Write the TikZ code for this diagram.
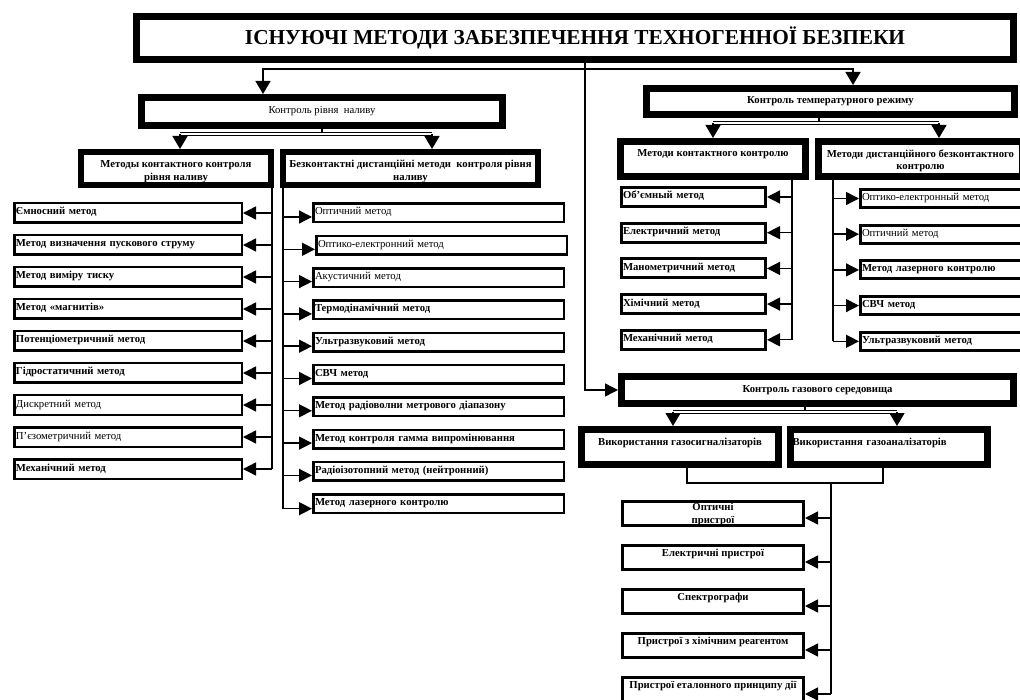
\documentclass[tikz,border=0pt]{standalone}
\usepackage{fontspec}
\setmainfont{Liberation Serif}
\usetikzlibrary{arrows.meta}

\begin{document}
\begin{tikzpicture}[x=1pt,y=-1pt,
  conn/.style={line width=1.4pt},
  arr/.style={line width=1.4pt,-{Triangle[length=13pt,width=13pt]}},
  darr/.style={line width=1.4pt,-{Triangle[length=13pt,width=15pt]}},
  dbl/.style={double,line width=0.8pt,double distance=1.6pt},
  head/.style={draw,line width=7pt,inner sep=0pt,align=center,font=\fontsize{10.7}{12.5}\selectfont},
  mid/.style={text height=8pt,text depth=4pt},
  high/.style={text height=8pt,text depth=12pt},
  two/.style={text height=#1,text depth=0pt},
  item/.style={draw,line width=2.5pt,inner xsep=1.5pt,inner ysep=0pt,align=left,
    text height=8pt,text depth=4pt,font=\fontsize{10.7}{12.5}\selectfont},
  gitem/.style={draw,line width=3pt,inner sep=0pt,align=center,minimum width=181pt,minimum height=24pt,
    text height=7pt,text depth=10pt,font=\fontsize{10.7}{12.5}\selectfont\bfseries},
  bold/.style={font=\fontsize{10.7}{12.5}\selectfont\bfseries}]
  \useasboundingbox (0,0) rectangle (1020,700);

  \draw (575,38) node (0) [head,minimum width=877pt,minimum height=43pt,font=\fontsize{21.3}{24}\selectfont\bfseries] {ІСНУЮЧІ МЕТОДИ ЗАБЕЗПЕЧЕННЯ ТЕХНОГЕННОЇ БЕЗПЕКИ};

  \draw (322,111.5)   node (1) [head,mid,minimum width=361pt,minimum height=28pt] {Контроль рівня~ наливу};
  \draw (830.5,101.5) node (2) [head,mid,minimum width=368pt,minimum height=26pt,bold] {Контроль температурного режиму};
  \draw (817.5,390)   node (3) [head,mid,minimum width=392pt,minimum height=27pt,bold] {Контроль газового середовища};

  \coordinate (j0) at (585,69);
  \coordinate (j1) at (263,69);
  \coordinate (j2) at (853,69);
  \draw[arr] (j0 |- 0.south) -- (j0 |- 3.west) -- (3.west);
  \draw[darr] (j0) -- (j1) -- (j1 |- 1.north);
  \draw[darr] (j0) -- (j2) -- (j2 |- 2.north);

  \draw (176,168.5) node (11) [head,two=24pt,line width=6pt,minimum width=190pt,minimum height=33pt,bold] {Методы контактного контроля\\рівня наливу};
  \draw (410.5,168.5) node (12) [head,two=24pt,line width=6pt,minimum width=255pt,minimum height=33pt,bold] {Безконтактні дистанційні методи~ контроля рівня\\наливу};
  \coordinate (j3) at (180,134);
  \coordinate (j4) at (432,134);
  \draw[conn] (1.south) -- (1.south |- j3);
  \draw[dbl] (j3) -- (j4);
  \draw[darr] (j3) -- (j3 |- 11.north);
  \draw[darr] (j4) -- (j4 |- 12.north);

  \draw (713,159)   node (21) [head,high,minimum width=185pt,minimum height=35pt,bold] {Методи контактного контролю};
  \draw (920.5,159) node (22) [head,two=21.5pt,minimum width=204pt,minimum height=35pt,bold] {Методи дистанційного безконтактного\\контролю};
  \coordinate (j5) at (713,123);
  \coordinate (j6) at (939,123);
  \coordinate (j7) at (819,123);
  \draw[conn] (j7 |- 2.south) -- (j7);
  \draw[dbl] (j5) -- (j6);
  \draw[darr] (j5) -- (j5 |- 21.north);
  \draw[darr] (j6) -- (j6 |- 22.north);

  \draw (680,447) node (31) [head,high,minimum width=197pt,minimum height=35pt,bold] {Використання газосигналізаторів};
  \draw (889,447) node (32) [head,high,minimum width=197pt,minimum height=35pt,bold,align=left,text width=193pt] {Використання газоаналізаторів};
  \coordinate (j8) at (673,412);
  \coordinate (j9) at (897,412);
  \coordinate (j10) at (805,412);
  \draw[conn] (j10 |- 3.south) -- (j10);
  \draw[dbl] (j8) -- (j9);
  \draw[darr] (j8) -- (j8 |- 31.north);
  \draw[darr] (j9) -- (j9 |- 32.north);

  % контактні методи рівня наливу
  \draw (128,213) node (111) [item,bold,minimum width=227.5pt,minimum height=19.5pt,text width=224pt] {Ємносний метод};
  \draw (128,245) node (112) [item,bold,minimum width=227.5pt,minimum height=19.5pt,text width=224pt] {Метод визначення пускового струму};
  \draw (128,277) node (113) [item,bold,minimum width=227.5pt,minimum height=19.5pt,text width=224pt] {Метод виміру тиску};
  \draw (128,309) node (114) [item,bold,minimum width=227.5pt,minimum height=19.5pt,text width=224pt] {Метод «магнитів»};
  \draw (128,341) node (115) [item,bold,minimum width=227.5pt,minimum height=19.5pt,text width=224pt] {Потенціометричний метод};
  \draw (128,373) node (116) [item,bold,minimum width=227.5pt,minimum height=19.5pt,text width=224pt] {Гідростатичний метод};
  \draw (128,405) node (117) [item,minimum width=227.5pt,minimum height=19.5pt,text width=224pt] {Дискретний метод};
  \draw (128,437) node (118) [item,minimum width=227.5pt,minimum height=19.5pt,text width=224pt] {П’єзометричний метод};
  \draw (128,469) node (119) [item,bold,minimum width=227.5pt,minimum height=19.5pt,text width=224pt] {Механічний метод};
  \coordinate (j11) at (272,188);
  \draw[conn] (j11) -- (j11 |- 119.east);
  \draw[arr] (j11 |- 111.east) -- (111.east);
  \draw[arr] (j11 |- 112.east) -- (112.east);
  \draw[arr] (j11 |- 113.east) -- (113.east);
  \draw[arr] (j11 |- 114.east) -- (114.east);
  \draw[arr] (j11 |- 115.east) -- (115.east);
  \draw[arr] (j11 |- 116.east) -- (116.east);
  \draw[arr] (j11 |- 117.east) -- (117.east);
  \draw[arr] (j11 |- 118.east) -- (118.east);
  \draw[arr] (j11 |- 119.east) -- (119.east);

  % безконтактні методи рівня наливу
  \draw (438.5,213)   node (1201) [item,minimum width=250.5pt,minimum height=18.5pt,text width=247pt] {Оптичний метод};
  \draw (441.5,245.3) node (1202) [item,minimum width=250.5pt,minimum height=18.5pt,text width=247pt] {Оптико-електронний метод};
  \draw (438.5,277.6) node (1203) [item,minimum width=250.5pt,minimum height=18.5pt,text width=247pt] {Акустичний метод};
  \draw (438.5,309.9) node (1204) [item,bold,minimum width=250.5pt,minimum height=18.5pt,text width=247pt] {Термодінамічний метод};
  \draw (438.5,342.2) node (1205) [item,bold,minimum width=250.5pt,minimum height=18.5pt,text width=247pt] {Ультразвуковий метод};
  \draw (438.5,374.5) node (1206) [item,bold,minimum width=250.5pt,minimum height=18.5pt,text width=247pt] {СВЧ метод};
  \draw (438.5,406.8) node (1207) [item,bold,minimum width=250.5pt,minimum height=18.5pt,text width=247pt] {Метод радіоволни метрового діапазону};
  \draw (438.5,439.1) node (1208) [item,bold,minimum width=250.5pt,minimum height=18.5pt,text width=247pt] {Метод контроля гамма випромінювання};
  \draw (438.5,471.4) node (1209) [item,bold,minimum width=250.5pt,minimum height=18.5pt,text width=247pt] {Радіоізотопний метод (нейтронний)};
  \draw (438.5,503.7) node (1210) [item,bold,minimum width=250.5pt,minimum height=18.5pt,text width=247pt] {Метод лазерного контролю};
  \coordinate (j12) at (283,188);
  \draw[conn] (j12) -- ([yshift=-5pt]j12 |- 1210.west);
  \draw[arr] ([yshift=-4pt]j12 |- 1201.west) -- ([yshift=-4pt]1201.west);
  \draw[arr] ([yshift=-4pt]j12 |- 1202.west) -- ([yshift=-4pt]1202.west);
  \draw[arr] ([yshift=-4pt]j12 |- 1203.west) -- ([yshift=-4pt]1203.west);
  \draw[arr] ([yshift=-4pt]j12 |- 1204.west) -- ([yshift=-4pt]1204.west);
  \draw[arr] ([yshift=-4pt]j12 |- 1205.west) -- ([yshift=-4pt]1205.west);
  \draw[arr] ([yshift=-4pt]j12 |- 1206.west) -- ([yshift=-4pt]1206.west);
  \draw[arr] ([yshift=-4pt]j12 |- 1207.west) -- ([yshift=-4pt]1207.west);
  \draw[arr] ([yshift=-4pt]j12 |- 1208.west) -- ([yshift=-4pt]1208.west);
  \draw[arr] ([yshift=-4pt]j12 |- 1209.west) -- ([yshift=-4pt]1209.west);
  \draw[arr] ([yshift=-5pt]j12 |- 1210.west) -- ([yshift=-5pt]1210.west);

  % контактний контроль температури
  \draw (693.5,197)   node (211) [item,bold,line width=3pt,minimum width=144pt,minimum height=19pt,text width=141pt] {Об’ємный метод};
  \draw (693.5,232.7) node (212) [item,bold,line width=3pt,minimum width=144pt,minimum height=19pt,text width=141pt] {Електричний метод};
  \draw (693.5,268.4) node (213) [item,bold,line width=3pt,minimum width=144pt,minimum height=19pt,text width=141pt] {Манометричний метод};
  \draw (693.5,304.1) node (214) [item,bold,line width=3pt,minimum width=144pt,minimum height=19pt,text width=141pt] {Хімічний метод};
  \draw (693.5,339.8) node (215) [item,bold,line width=3pt,minimum width=144pt,minimum height=19pt,text width=141pt] {Механічний метод};
  \coordinate (j13) at (792,180);
  \draw[conn] (j13) -- (j13 |- 215.east);
  \draw[arr] (j13 |- 211.east) -- (211.east);
  \draw[arr] (j13 |- 212.east) -- (212.east);
  \draw[arr] (j13 |- 213.east) -- (213.east);
  \draw[arr] (j13 |- 214.east) -- (214.east);
  \draw[arr] (j13 |- 215.east) -- (215.east);

  % дистанційний контроль температури
  \draw (944.5,198.5) node (221) [item,line width=3pt,minimum width=168pt,minimum height=18pt,text width=165pt] {Оптико-електронный метод};
  \draw (944.5,234.2) node (222) [item,line width=3pt,minimum width=168pt,minimum height=18pt,text width=165pt] {Оптичний метод};
  \draw (944.5,269.9) node (223) [item,bold,line width=3pt,minimum width=168pt,minimum height=18pt,text width=165pt] {Метод лазерного контролю};
  \draw (944.5,305.6) node (224) [item,bold,line width=3pt,minimum width=168pt,minimum height=18pt,text width=165pt] {СВЧ метод};
  \draw (944.5,341.3) node (225) [item,bold,line width=3pt,minimum width=168pt,minimum height=18pt,text width=165pt] {Ультразвуковий метод};
  \coordinate (j14) at (833,180);
  \draw[conn] (j14) -- (j14 |- 225.west);
  \draw[arr] (j14 |- 221.west) -- (221.west);
  \draw[arr] (j14 |- 222.west) -- (222.west);
  \draw[arr] (j14 |- 223.west) -- (223.west);
  \draw[arr] (j14 |- 224.west) -- (224.west);
  \draw[arr] (j14 |- 225.west) -- (225.west);

  % газові прилади
  \draw (713,513.5) node (311) [gitem,text height={},text depth=0pt] {Оптичні\\пристрої};
  \draw (713,557.5) node (312) [gitem] {Електричні пристрої};
  \draw (713,601.5) node (313) [gitem] {Спектрографи};
  \draw (713,645.5) node (314) [gitem] {Пристрої з хімічним реагентом};
  \draw (713,689.5) node (315) [gitem] {Пристрої еталонного принципу дії};
  \coordinate (j15) at (831,483);
  \coordinate (j16) at (687,483);
  \coordinate (j17) at (883,483);
  \draw[conn] (j16 |- 31.south) -- (j16) -- (j17) -- (j17 |- 32.south);
  \draw[conn] (j15) -- ([yshift=-4.5pt]j15 |- 315.east);
  \draw[arr] ([yshift=-4.5pt]j15 |- 311.east) -- ([yshift=-4.5pt]311.east);
  \draw[arr] ([yshift=-4.5pt]j15 |- 312.east) -- ([yshift=-4.5pt]312.east);
  \draw[arr] ([yshift=-4.5pt]j15 |- 313.east) -- ([yshift=-4.5pt]313.east);
  \draw[arr] ([yshift=-4.5pt]j15 |- 314.east) -- ([yshift=-4.5pt]314.east);
  \draw[arr] ([yshift=-4.5pt]j15 |- 315.east) -- ([yshift=-4.5pt]315.east);
\end{tikzpicture}
\end{document}
